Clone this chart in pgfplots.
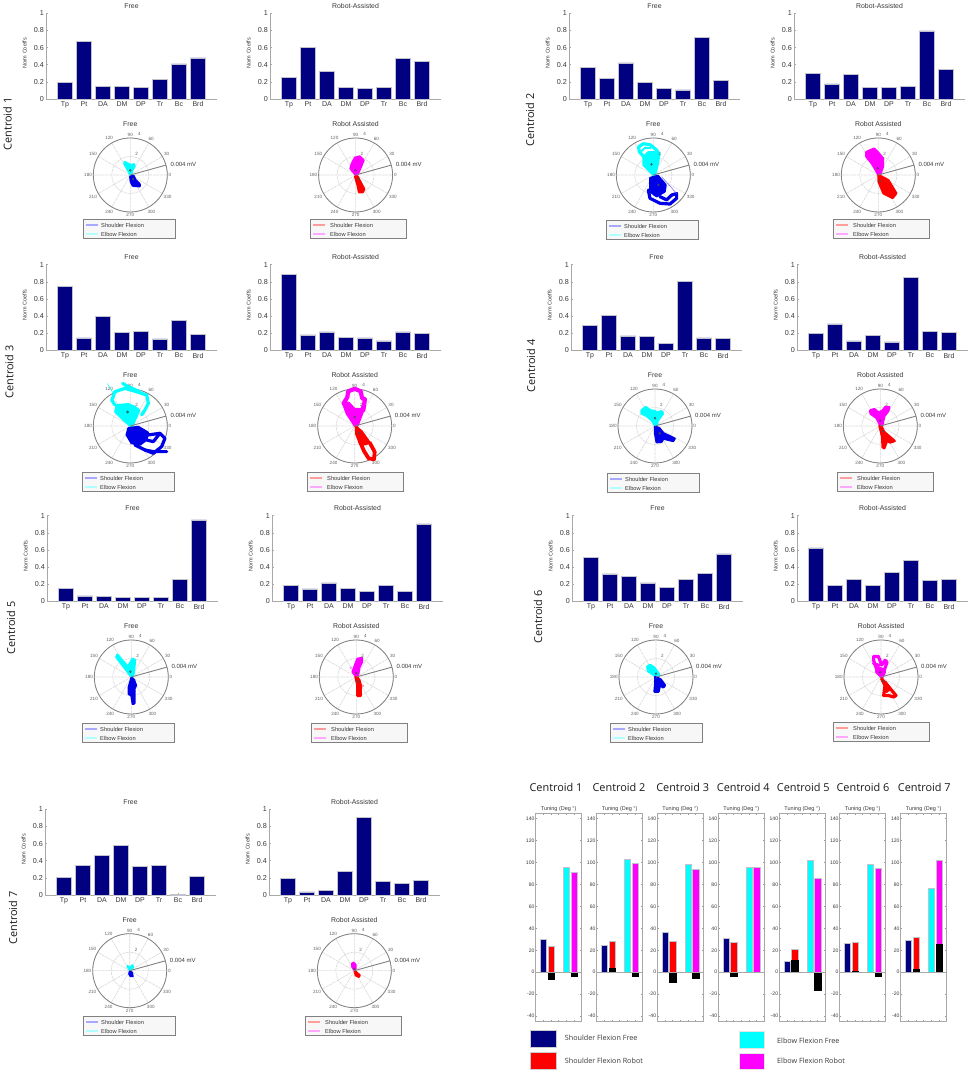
\documentclass[border=0pt]{standalone}
\usepackage{fontspec}
\setmainfont{Liberation Sans}
\newfontfamily\cfont{Open Sans}
\usepackage{pgfplots}
\usepgfplotslibrary{polar}
\pgfplotsset{compat=1.18}
\definecolor{navyb}{HTML}{000080}
\definecolor{axg}{gray}{0.66}
\definecolor{txg}{gray}{0.22}
\definecolor{blb}{HTML}{0000E8}
\definecolor{cy}{HTML}{00FFFF}
\definecolor{mg}{HTML}{FF00FF}
\definecolor{rd}{HTML}{FF0000}
\definecolor{blu}{HTML}{0000FF}
\definecolor{rimg}{gray}{0.5}
\definecolor{lgb}{HTML}{A8A8FF}
\definecolor{lgc}{HTML}{B0FFFF}
\definecolor{lgr}{HTML}{FF9C9C}
\definecolor{lgm}{HTML}{FFA8FF}
\definecolor{lgbg}{gray}{0.97}
\pgfplotsset{
 barax/.style={scale only axis,width=171pt,height=85.7pt,anchor=north west,clip=false,
  axis lines=left,axis line style={-,axg,line width=.8pt},
  xmin=0,xmax=9,ymin=0,ymax=1,
  xtick={1,...,8},xticklabels={Tp,Pt,DA,DM,DP,Tr,Bc,Brd},
  ytick={0,0.2,0.4,0.6,0.8,1},yticklabels={0,0.2,0.4,0.6,0.8,1},
  tick align=inside,major tick length=1.5pt,tick style={axg,line width=.5pt},
  xticklabel style={font=\fontsize{7}{8}\selectfont,text=txg,inner sep=1pt,yshift=-1.5pt},
  yticklabel style={font=\fontsize{7.2}{8}\selectfont,text=txg,inner sep=1pt,xshift=-1pt},
  every axis y label/.style={at={(axis description cs:-0.125,0.53)},rotate=90,anchor=center,font=\fontsize{5.5}{6}\selectfont,text=txg},
  ylabel={Norm Coeffs},
  every axis title/.style={at={(axis description cs:0.5,1.086)},anchor=center,font=\fontsize{6.9}{8}\selectfont,text=txg}},
 nbar/.style={ybar,bar width=0.8,bar shift=0pt,fill=navyb,draw={rgb,1:red,.76;green,.76;blue,.8},line width=.5pt,forget plot},
 polax/.style={scale only axis,width=74pt,height=74pt,anchor=center,clip=false,
  xmin=0,xmax=360,ymin=0,ymax=4,xtick={0,30,...,330},ytick={2,4},yticklabels={},
  grid=major,grid style={gray!30,line width=.6pt,dash pattern=on 3pt off .7pt},
  axis line style={rimg,line width=.8pt},y axis line style={draw=none},tick style={draw=none},
  /pgf/number format/assume math mode=true,
  xticklabel style={font=\fontsize{4.6}{5}\selectfont,text=txg!80,inner sep=1.2pt}},
 blob/.style={data cs=cart,forget plot,draw=#1,fill=#1,line width=2.4pt,line join=round,no markers},
 traj/.style={data cs=cart,forget plot,draw=#1,line width=3.2pt,line join=round,line cap=round,no markers},
 thinl/.style={data cs=cart,forget plot,draw=#1,line width=.5pt,no markers},
 mk/.style={data cs=cart,forget plot,only marks,mark=o,mark size=.9pt,draw=#1,mark options={draw=#1,fill=none,line width=.5pt}},
 tun/.style={scale only axis,width=46pt,height=208pt,anchor=north west,
  xmin=0,xmax=6,ymin=-45.2,ymax=144.6,xtick={0,1,...,6},xticklabels={},
  ytick={-40,-20,0,20,40,60,80,100,120,140},
  yticklabels={-40,-20,0,20,40,60,80,100,120,140},
  tick align=inside,major tick length=1.3pt,tick style={gray!80,line width=.5pt},
  xtick pos=both,ytick pos=both,
  axis line style={axg,line width=1.1pt},
  yticklabel style={font=\fontsize{5.1}{6}\selectfont,text=txg,inner sep=1pt},
  title={Tuning (Deg °)},
  every axis title/.style={at={(axis description cs:0.5,1)},anchor=south,yshift=2pt,inner sep=0pt,font=\fontsize{5.5}{6}\selectfont,text=txg}},
 tbar/.style={ybar,bar width=0.8,bar shift=0pt,fill=#1,draw={rgb,1:red,.76;green,.76;blue,.8},line width=.4pt,forget plot},
 kbar/.style={ybar,bar width=0.8,bar shift=0pt,fill=black,draw=black,line width=.2pt,forget plot},
}
\newcommand\barplot[5][]{%
\begin{axis}[barax,at={(#2pt,{1073pt-#3pt})},title={#4}]
\addplot[nbar] coordinates {#5};
\end{axis}}
\newcommand\legF{\gdef\lcA{lgb}\gdef\lcB{lgc}\gdef\lwid{92}\gdef\ltx{18}}
\newcommand\legR{\gdef\lcA{lgr}\gdef\lcB{lgm}\gdef\lwid{96}\gdef\ltx{20}}
\newcommand\polarplot[6]{%
\begin{polaraxis}[polax,at={(#1pt,{1073pt-#2pt})}]
#6
\addplot[forget plot,draw=rimg,line width=.9pt] coordinates {(15.5,0) (15.5,4)};
\node[font=\fontsize{4.6}{5}\selectfont,text=txg!80,inner sep=0pt] at (axis cs:73,2.37) {2};
\node[font=\fontsize{4.6}{5}\selectfont,text=txg!80,inner sep=0pt] at (axis cs:77.5,4.5) {4};
\node[font=\fontsize{6}{7}\selectfont,text=txg,anchor=west,inner sep=0pt] at (axis cs:15,4.48) {0.004 mV};
\node[font=\fontsize{6.9}{8}\selectfont,text=txg,inner sep=0pt] at (axis cs:90,5.48) {#3};
\end{polaraxis}
\draw[rimg,line width=.8pt,fill=lgbg] (#4pt,{1073pt-#5pt}) rectangle ({#4pt+\lwid pt},{1073pt-#5pt-19.6pt});
\draw[color=\lcA,line width=1.2pt] ({#4pt+2.7pt},{1073pt-#5pt-6pt}) -- ({#4pt+15.3pt},{1073pt-#5pt-6pt});
\draw[color=\lcB,line width=1.2pt] ({#4pt+2.7pt},{1073pt-#5pt-15pt}) -- ({#4pt+15.3pt},{1073pt-#5pt-15pt});
\node[anchor=west,inner sep=0pt,font=\fontsize{5.7}{6}\selectfont,text=txg] at ({#4pt+\ltx pt},{1073pt-#5pt-6pt}) {Shoulder Flexion};
\node[anchor=west,inner sep=0pt,font=\fontsize{5.7}{6}\selectfont,text=txg] at ({#4pt+\ltx pt},{1073pt-#5pt-15pt}) {Elbow Flexion};
}
\newcommand\tunplot[6]{%
\begin{axis}[tun,at={(#1pt,{1073pt-813.7pt})}]
\addplot[tbar=navyb] coordinates {(1,#2)};
\addplot[tbar=rd] coordinates {(2,#3)};
\addplot[tbar=cy] coordinates {(4,#4)};
\addplot[tbar=mg] coordinates {(5,#5)};
#6
\addplot[forget plot,draw=axg,line width=.8pt] coordinates {(0,0) (6,0)};
\end{axis}}
\newcommand\cent[3]{\node[rotate=90,font=\cfont\fontsize{10.9}{12}\selectfont,text=black!90] at (#1pt,{1073pt-#2pt}) {Centroid #3};}
\newcommand\centt[3]{\node[font=\cfont\fontsize{10.9}{12}\selectfont,text=black!90] at (#1pt,{1073pt-#2pt}) {Centroid #3};}
\begin{document}
\begin{tikzpicture}
\path[use as bounding box] (0pt,0pt) rectangle (970pt,1073pt);
% ---------- Centroid 1
\cent{7.5}{124}{1}
\barplot{46}{13.3}{Free}{(1,.19)(2,.675)(3,.15)(4,.15)(5,.135)(6,.225)(7,.41)(8,.48)}
\barplot{270}{13.3}{Robot-Assisted}{(1,.255)(2,.60)(3,.325)(4,.135)(5,.12)(6,.135)(7,.475)(8,.44)}
\polarplot{130.3}{175}{Free}{83}{219}{\legF
\addplot[blob=cy] coordinates {(.02,.02)(-.62,1.2)(-.62,1.4)(-.22,1.2)(.07,1.05)(.4,1.15)(.45,.95)(.2,.5)(.1,.02)} --cycle;
\addplot[blob=blb] coordinates {(0,-.18)(.35,-.1)(.55,-.54)(1.0,-1.0)(1.0,-1.22)(.28,-1.15)(.06,-.72)} --cycle;
\addplot[mk=black!70] coordinates {(0,.5)(.3,-.43)};
}
\polarplot{355.6}{175}{Robot Assisted}{310}{219}{\legR
\addplot[blob=mg] coordinates {(.02,.02)(-.55,.7)(-.4,1.22)(-.07,1.85)(.45,2.0)(.85,1.58)(.5,.72)(.18,.02)} --cycle;
\addplot[blob=rd] coordinates {(-.05,-.18)(.22,-.18)(.78,-1.26)(.92,-1.5)(.78,-1.85)(.37,-1.85)(.22,-1.1)} --cycle;
\addplot[mk=black!70] coordinates {(0,.5)(.3,-.43)};
}
% ---------- Centroid 2
\cent{530}{120}{2}
\barplot{569}{13.3}{Free}{(1,.37)(2,.24)(3,.42)(4,.19)(5,.12)(6,.105)(7,.72)(8,.22)}
\barplot{794}{13.3}{Robot-Assisted}{(1,.30)(2,.175)(3,.285)(4,.135)(5,.135)(6,.145)(7,.795)(8,.345)}
\polarplot{653.3}{175}{Free}{606}{220}{\legF
\addplot[blob=cy] coordinates {(.02,.02)(-1.05,1.08)(-1.05,1.95)(-.54,2.45)(.36,2.45)(.62,2.16)(.5,1.26)(.18,.02)} --cycle;
\addplot[traj=cy] coordinates {(-1.05,2.0)(-1.5,2.5)(-1.6,3.02)(-1.08,3.38)(-.36,3.28)(.36,2.7)(.65,2.16)};
\addplot[traj=cy,line width=2pt] coordinates {(-1.25,2.6)(-.9,2.95)(-.3,2.9)};
\addplot[blob=blb] coordinates {(-.33,-.33)(.5,-.1)(1.32,-1.08)(1.22,-1.78)(.36,-2.3)(-.33,-1.78)} --cycle;
\addplot[traj=blb] coordinates {(-.54,-1.62)(-.36,-2.52)(.72,-3.06)(1.8,-3.14)(2.52,-2.52)(2.52,-2.0)(2.0,-2.16)(1.44,-2.7)(.72,-2.34)};
\addplot[thinl=blu!60] coordinates {(.9,-.18)(2.52,-2)};
\addplot[mk=black!70] coordinates {(-.2,1.15)(.54,-1.08)};
}
\polarplot{878.3}{175}{Robot Assisted}{833}{219}{\legR
\addplot[blob=mg] coordinates {(.02,.02)(-.7,1.26)(-1.3,2)(-1.3,2.48)(-.47,2.84)(-.18,2.6)(.5,1.8)(.5,.9)(.18,.02)} --cycle;
\addplot[blob=rd] coordinates {(.02,-.02)(.36,-.18)(1.08,-.56)(1.94,-1.98)(1.55,-2.48)(.56,-1.98)(.03,-.72)} --cycle;
\addplot[mk=black!70] coordinates {(-.07,.72)(.18,-.65)};
}
% ---------- Centroid 3
\cent{9.3}{372}{3}
\barplot{46}{264.7}{Free}{(1,.75)(2,.145)(3,.395)(4,.21)(5,.22)(6,.135)(7,.35)(8,.19)}
\barplot{270}{264.7}{Robot-Assisted}{(1,.885)(2,.18)(3,.215)(4,.15)(5,.145)(6,.11)(7,.215)(8,.195)}
\polarplot{130.3}{426}{Free}{82}{472}{\legF
\addplot[blob=cy] coordinates {(.02,.02)(-.92,.83)(-1.62,1.55)(-1.45,2.25)(-.22,2.35)(.5,2.05)(.95,1.7)(.66,1)(.22,.02)} --cycle;
\addplot[traj=cy] coordinates {(-1.66,2.27)(-2,2.8)(-1.66,3.7)(-.58,4.07)(.68,3.7)(1.77,3.35)(1.95,2.45)(1.58,1.73)(1.22,1.19)};
\addplot[traj=cy] coordinates {(-.83,4.6)(-.22,4.25)(1.05,3.7)};
\addplot[thinl=cy] coordinates {(-2.49,4.6)(-1.84,3.53)};
\addplot[blob=blb] coordinates {(-.2,-.25)(.86,-.1)(1.9,-.72)(1.75,-1.48)(1.05,-2.0)(.14,-1.84)(-.38,-.97)} --cycle;
\addplot[traj=blb] coordinates {(1.95,-.97)(3.2,-.79)(3.75,-1.33)(3.39,-2.23)(2.49,-2.95)(1.59,-2.6)(.5,-2.05)};
\addplot[traj=blb] coordinates {(1.59,-2.6)(2.49,-2.77)(3.93,-2.77)};
\addplot[traj=blb] coordinates {(1.77,-1.51)(2.49,-1.69)(3.2,-.79)};
\addplot[data cs=cart,forget plot,only marks,mark=*,mark size=1.3pt,mark options={draw=teal,fill=teal}] coordinates {(-.29,1.51)};
}
\polarplot{354.7}{426}{Robot Assisted}{307}{472}{\legR
\addplot[blob=mg] coordinates {(.02,.02)(-.86,1.37)(-1.25,2.45)(-.65,2.5)(0,1.8)(.72,1.8)(1.18,2.95)(.94,1.73)(.29,.02)} --cycle;
\addplot[traj=mg,line width=4.2pt] coordinates {(-1.2,2.45)(-.8,3.1)(-.7,3.75)(0,4.02)(.65,3.75)(.8,3)(1.1,2.9)(.94,1.73)};
\addplot[blob=rd] coordinates {(.14,-.07)(.76,-.61)(1.6,-1.8)(1.08,-1.98)(.54,-1.8)(.18,-.9)} --cycle;
\addplot[traj=rd,line width=3.8pt] coordinates {(.54,-1.62)(1,-2.7)(1.51,-3.5)(2.09,-3.6)(2.16,-2.8)(1.62,-1.8)};
\addplot[mk=black!70] coordinates {(0,.97)(.5,-.79)};
}
% ---------- Centroid 4
\cent{531}{366}{4}
\barplot{571}{264.7}{Free}{(1,.29)(2,.41)(3,.17)(4,.165)(5,.08)(6,.805)(7,.145)(8,.14)}
\barplot{797}{264.7}{Robot-Assisted}{(1,.20)(2,.31)(3,.11)(4,.175)(5,.10)(6,.855)(7,.22)(8,.21)}
\polarplot{655}{426}{Free}{607}{473}{\legF
\addplot[blob=cy] coordinates {(.02,.02)(-.36,.65)(-.9,1.08)(-1.45,1.37)(-1.45,1.7)(-1,2.05)(-.54,1.7)(0,1.6)(.18,1.42)(.7,1.6)(.86,1.35)(.52,.9)(.28,.54)(.18,.02)} --cycle;
\addplot[blob=blb] coordinates {(0,-.1)(.45,-.22)(.9,-.78)(2.12,-1.37)(1.96,-1.62)(.9,-1.35)(.7,-1.7)(.18,-1.76)(.02,-.83)} --cycle;
\addplot[mk=black!70] coordinates {(0,.86)(.5,-.79)};
}
\polarplot{880.3}{426}{Robot Assisted}{837}{472}{\legR
\addplot[blob=mg] coordinates {(.02,.02)(-.43,.9)(-1.05,1.33)(-1.1,1.68)(-.65,1.82)(-.18,1.44)(.29,1.7)(.54,2.05)(.97,2.05)(.86,1.62)(.43,1.08)(.2,.02)} --cycle;
\addplot[blob=rd] coordinates {(-.08,0)(.14,-.1)(.43,-.65)(1.55,-1.62)(1.08,-1.78)(.72,-1.62)(.43,-2.4)(.24,-2.3)(.22,-1.26)} --cycle;
\addplot[mk=black!70] coordinates {(0,.58)(.32,-.58)};
}
% ---------- Centroid 5
\cent{11}{628}{5}
\barplot{47}{515.7}{Free}{(1,.15)(2,.065)(3,.06)(4,.05)(5,.05)(6,.05)(7,.255)(8,.95)}
\barplot{272}{515.7}{Robot-Assisted}{(1,.19)(2,.145)(3,.215)(4,.15)(5,.115)(6,.19)(7,.12)(8,.905)}
\polarplot{131.3}{677}{Free}{82}{723}{\legF
\addplot[blob=cy] coordinates {(.02,.02)(-1.62,2.16)(-1.5,2.4)(-.36,1.08)(.12,1.95)(.4,1.84)(.28,.54)(.16,.02)} --cycle;
\addplot[blob=blb] coordinates {(.02,-.1)(.27,-.29)(.5,-.9)(.34,-1.26)(.34,-2.84)(.16,-2.9)(.02,-2)(-.26,-1.84)(-.26,-1.08)} --cycle;
\addplot[mk=black!70] coordinates {(-.1,.58)};
}
\polarplot{356.3}{677}{Robot Assisted}{311}{723}{\legR
\addplot[blob=mg] coordinates {(.02,.02)(-.4,.54)(-.27,.9)(.12,1.96)(.62,2.05)(.62,1.62)(.34,1.08)(.16,.02)} --cycle;
\addplot[blob=rd] coordinates {(-.08,0)(.16,-.1)(.34,-.36)(.48,-.9)(.48,-2.05)(.12,-2.05)(.12,-.9)} --cycle;
\addplot[mk=black!70] coordinates {(0,.43)(.18,-.47)};
\addplot[mk=mg!50] coordinates {(-.6,1)};
\addplot[mk=rd!50] coordinates {(.72,-.95)};
}
% ---------- Centroid 6
\cent{538}{617}{6}
\barplot{572}{515.7}{Free}{(1,.51)(2,.32)(3,.29)(4,.215)(5,.165)(6,.26)(7,.33)(8,.555)}
\barplot{797}{515.7}{Robot-Assisted}{(1,.625)(2,.185)(3,.26)(4,.19)(5,.335)(6,.48)(7,.245)(8,.26)}
\polarplot{656}{677}{Free}{610}{723}{\legF
\addplot[blob=cy] coordinates {(.02,.02)(-.86,.65)(-.94,1.12)(-.65,1.3)(-.2,1.02)(.32,.3)(.26,.02)} --cycle;
\addplot[blob=blb] coordinates {(-.08,0)(.18,-.1)(.52,-.29)(.96,-.9)(.8,-1.12)(.43,-.9)(.27,-1.58)(-.16,-1.58)(-.08,-.72)} --cycle;
\addplot[mk=black!70] coordinates {(0,.36)};
}
\polarplot{881}{677}{Robot Assisted}{833}{722}{\legR
\addplot[blob=mg] coordinates {(.02,.02)(-.52,.54)(-.36,.98)(.18,.88)(.41,.54)(.18,.02)} --cycle;
\addplot[traj=mg] coordinates {(-.43,.72)(-.8,1.8)(-.8,2.23)(-.29,2.23)(.07,1.3)(.43,1.8)(.65,1.62)(.29,.54)};
\addplot[traj=mg] coordinates {(-.8,1.44)(-.2,1.25)};
\addplot[blob=rd] coordinates {(.07,-.18)(.43,-.54)(1,-1.26)(.6,-1.6)(.43,-.9)} --cycle;
\addplot[traj=rd] coordinates {(.07,-.18)(.43,-.9)(.29,-2)(.8,-2)(1.37,-2.16)(1.62,-2)(1,-1.26)(.43,-.54)};
\addplot[mk=black!70] coordinates {(-.07,.5)(.25,-.47)};
}
% ---------- Centroid 7
\cent{13}{918}{7}
\barplot{45}{809.3}{Free}{(1,.21)(2,.35)(3,.465)(4,.58)(5,.335)(6,.35)(7,.005)(8,.22)}
\barplot{269}{809.3}{Robot-Assisted}{(1,.19)(2,.035)(3,.05)(4,.275)(5,.905)(6,.155)(7,.135)(8,.175)}
\polarplot{129.7}{970.7}{Free}{83}{1016}{\legF
\addplot[blob=cy,line width=1.6pt] coordinates {(.02,.02)(-.26,.43)(-.22,.55)(0,.29)(.27,.62)(.4,.43)(.16,.1)} --cycle;
\addplot[blob=blb,line width=1.6pt] coordinates {(0,-.07)(.27,-.18)(.34,-.62)(.08,-.62)(-.08,-.36)} --cycle;
}
\polarplot{354.3}{970.7}{Robot Assisted}{305}{1016}{\legR
\addplot[blob=mg,line width=1.6pt] coordinates {(.02,.02)(-.26,.43)(-.26,.78)(-.07,.9)(.16,.65)(.16,.18)} --cycle;
\addplot[blob=rd,line width=1.6pt] coordinates {(.02,-.07)(.16,-.07)(.62,-.5)(.5,-.7)(.12,-.52)} --cycle;
\addplot[mk=black!70] coordinates {(0,.2)};
}
% ---------- Tuning panels
\centt{556}{787.3}{1}
\centt{619}{787}{2}
\centt{682.7}{787.3}{3}
\centt{743.3}{787.3}{4}
\centt{803.3}{787.3}{5}
\centt{863}{787.3}{6}
\centt{924.3}{787.7}{7}
\tunplot{535.7}{30}{23.5}{95.5}{91}{\addplot[kbar] coordinates {(2,-6.5)};\addplot[kbar] coordinates {(5,-4)};}
\tunplot{596.7}{25}{28.5}{103.5}{99.5}{\addplot[kbar] coordinates {(2,4)};\addplot[kbar] coordinates {(5,-3.5)};}
\tunplot{657.3}{36.5}{28}{98.5}{93.5}{\addplot[kbar] coordinates {(2,-9)};\addplot[kbar] coordinates {(5,-5.5)};}
\tunplot{718.3}{31}{27}{95.5}{96}{\addplot[kbar] coordinates {(2,-4)};}
\tunplot{779.3}{10}{21}{102}{86}{\addplot[kbar] coordinates {(2,11)};\addplot[kbar] coordinates {(5,-16)};}
\tunplot{839.7}{26.5}{27.5}{98.5}{95}{\addplot[kbar] coordinates {(2,1)};\addplot[kbar] coordinates {(5,-3.5)};}
\tunplot{900.7}{29}{31.5}{77}{102.5}{\addplot[kbar] coordinates {(2,2.5)};\addplot[kbar] coordinates {(5,26)};}
% ---------- Bottom legend
\fill[navyb,draw=gray!40,line width=.4pt] (530.3pt,42.3pt) rectangle (555.7pt,25.3pt);
\fill[rd,draw=gray!40,line width=.4pt] (530.3pt,21pt) rectangle (555.7pt,4pt);
\fill[cy,draw=gray!20,line width=.4pt] (739.3pt,41.3pt) rectangle (764.3pt,24.3pt);
\fill[mg,draw=gray!20,line width=.4pt] (739.3pt,20pt) rectangle (764.3pt,3.3pt);
\node[anchor=west,inner sep=0pt,font=\cfont\fontsize{7.2}{8}\selectfont,text=txg] at (564.7pt,34.7pt) {Shoulder Flexion Free};
\node[anchor=west,inner sep=0pt,font=\cfont\fontsize{7.2}{8}\selectfont,text=txg] at (564.7pt,12pt) {Shoulder Flexion Robot};
\node[anchor=west,inner sep=0pt,font=\cfont\fontsize{7.2}{8}\selectfont,text=txg] at (777pt,32pt) {Elbow Flexion Free};
\node[anchor=west,inner sep=0pt,font=\cfont\fontsize{7.2}{8}\selectfont,text=txg] at (777pt,12pt) {Elbow Flexion Robot};
\end{tikzpicture}
\end{document}
